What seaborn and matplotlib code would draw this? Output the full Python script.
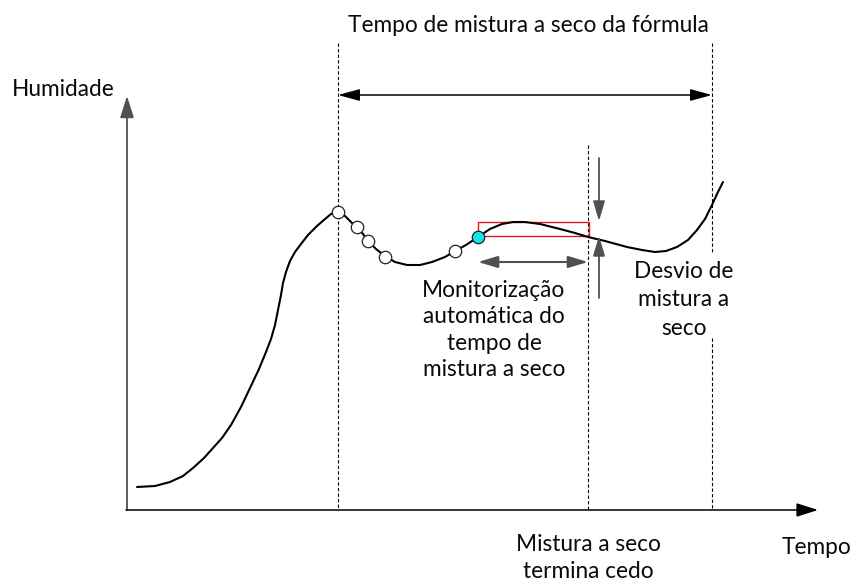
import matplotlib
matplotlib.use("Agg")
import matplotlib.pyplot as plt
import seaborn as sns
import pandas as pd

# ---- data (diagram coordinates, pixel units) ----
curve_x = [137, 155, 170, 183, 193, 204, 213, 222, 231, 241, 250, 259, 266, 271,
           275, 278, 281, 283, 286, 290, 295, 301, 308, 317, 325, 331, 338, 345,
           352, 357, 363, 368, 376, 385, 395, 407, 420, 432, 445, 455, 466, 478,
           490, 502, 513, 525, 540, 560, 575, 588, 605, 627, 642, 655, 666, 677,
           688, 697, 705, 712, 717, 723]
curve_y = [487, 486, 482, 476, 468, 458, 448, 438, 425, 407, 388, 369, 352, 339,
           325, 310, 295, 283, 272, 261, 252, 244, 235, 226, 219, 214, 211, 216,
           223, 227, 234, 241, 249, 256, 262, 265, 265, 262, 257, 251, 245, 237,
           229, 224, 222, 222, 224, 229, 233, 237, 241, 247, 250, 252, 251, 247,
           240, 230, 219, 205, 194, 182]

sample_x = [338, 357, 368, 385, 455]
sample_y = [212, 227, 241, 257, 251]
current_x = [478]
current_y = [237]

font = ["Lato", "DejaVu Sans"]
fs = 16.3

sns.set_theme(style="white")
plt.rcParams["font.family"] = font

fig = plt.figure(figsize=(8.53, 5.81), dpi=100)
ax = fig.add_axes([0, 0, 1, 1])
ax.set_xlim(0, 853)
ax.set_ylim(581, 0)
ax.axis("off")

# axes with arrows
ax.annotate("", xy=(127, 96), xytext=(127, 510),
            arrowprops=dict(arrowstyle="-|>,head_length=1.1,head_width=0.35",
                            color="#505050", lw=1.3, shrinkA=0, shrinkB=0))
ax.annotate("", xy=(818, 510), xytext=(126, 510),
            arrowprops=dict(arrowstyle="-|>,head_length=1.1,head_width=0.35",
                            color="black", lw=1.1, shrinkA=0, shrinkB=0))

# dashed verticals
dash = dict(color="black", lw=0.8, ls=(0, (3, 2)))
ax.plot([338, 338], [43, 510], **dash)
ax.plot([712, 712], [43, 253], **dash)
ax.plot([712, 712], [338, 510], **dash)
ax.plot([588, 588], [145, 510], **dash)

# top double arrow
ax.annotate("", xy=(338, 95), xytext=(712, 95),
            arrowprops=dict(arrowstyle="<|-|>,head_length=1.1,head_width=0.3",
                            color="black", lw=1.1, shrinkA=0, shrinkB=0))

# red rectangle
ax.plot([478, 478, 589, 589, 478], [236, 222, 222, 236, 236], color="#e8191c", lw=1.0)

# curve
df = pd.DataFrame({"x": curve_x, "y": curve_y})
sns.lineplot(data=df, x="x", y="y", sort=False, ax=ax, color="black", lw=1.5,
             estimator=None)

# markers
sns.scatterplot(x=sample_x, y=sample_y, ax=ax, s=80, color="white",
                edgecolor="#222222", linewidth=0.9, zorder=5)
sns.scatterplot(x=current_x, y=current_y, ax=ax, s=80, color="#10e5e5",
                edgecolor="#222222", linewidth=0.9, zorder=6)

# monitoring double arrow
ax.annotate("", xy=(478, 262), xytext=(588, 262),
            arrowprops=dict(arrowstyle="<|-|>,head_length=1.0,head_width=0.3",
                            color="#505050", lw=1.5, shrinkA=0, shrinkB=0))

# deviation arrows
ax.annotate("", xy=(599, 221), xytext=(599, 158),
            arrowprops=dict(arrowstyle="-|>,head_length=1.0,head_width=0.3",
                            color="#505050", lw=1.3, shrinkA=0, shrinkB=0))
ax.annotate("", xy=(599, 236), xytext=(599, 298),
            arrowprops=dict(arrowstyle="-|>,head_length=1.0,head_width=0.3",
                            color="#505050", lw=1.3, shrinkA=0, shrinkB=0))

# texts
tc = "#0a0a0a"
ax.text(528, 25, "Tempo de mistura a seco da fórmula", ha="center", va="center",
        fontsize=fs, color=tc)
ax.text(12, 90, "Humidade", ha="left", va="center", fontsize=fs, color=tc)
ax.text(817, 548, "Tempo", ha="center", va="center", fontsize=fs, color=tc)
ax.text(588, 558, "Mistura a seco\ntermina cedo", ha="center", va="center",
        fontsize=fs, color=tc, linespacing=1.3)
ax.text(494, 330, "Monitorização\nautomática do\ntempo de\nmistura a seco",
        ha="center", va="center", fontsize=fs, color=tc, linespacing=1.3)
ax.text(684, 300, "Desvio de\nmistura a\nseco", ha="center", va="center",
        fontsize=fs, color=tc, linespacing=1.45)

fig.savefig("out.png", dpi=100)
